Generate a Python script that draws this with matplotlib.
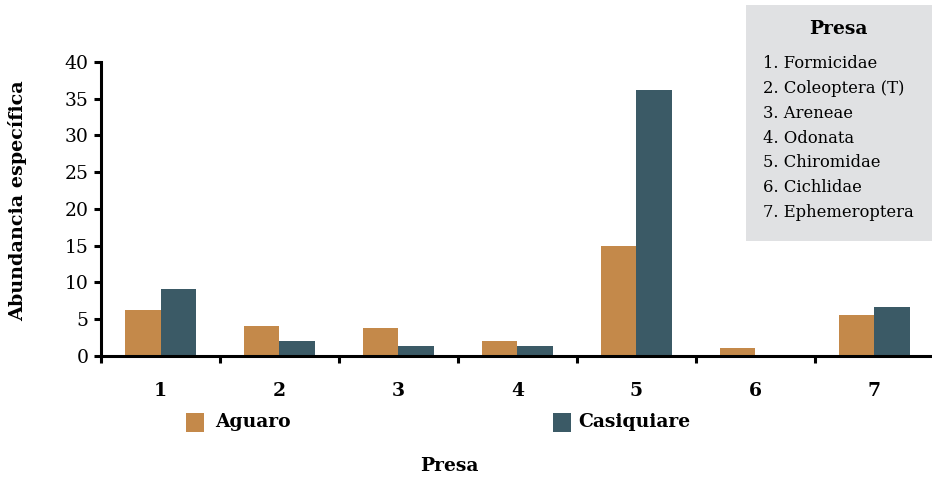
import matplotlib
matplotlib.use("Agg")
import matplotlib.pyplot as plt
import numpy as np
from matplotlib.patches import Rectangle

categories = ["1", "2", "3", "4", "5", "6", "7"]
aguaro = [6.2, 4.0, 3.8, 2.0, 15.0, 1.0, 5.5]
casiquiare = [9.1, 2.0, 1.3, 1.3, 36.2, 0.0, 6.6]
series_names = ["Aguaro", "Casiquiare"]
prey_names = ["1. Formicidae", "2. Coleoptera (T)", "3. Areneae", "4. Odonata",
              "5. Chiromidae", "6. Cichlidae", "7. Ephemeroptera"]
y_ticks = [0, 5, 10, 15, 20, 25, 30, 35, 40]

c_ag = "#c4894a"
c_ca = "#3b5a66"

plt.rcParams["font.family"] = ["DejaVu Serif"]

fig = plt.figure(figsize=(9.32, 4.79), dpi=100)
ax = fig.add_axes([0.1084, 0.2574, 0.8936, 0.6132])

x = np.arange(len(categories))
w = 0.3
ax.bar(x - w / 2, aguaro, width=w, color=c_ag, linewidth=0)
ax.bar(x + w / 2, casiquiare, width=w, color=c_ca, linewidth=0)

ax.set_xlim(-0.5, len(categories) - 0.5)
ax.set_ylim(0, 40)
for s in ["top", "right"]:
    ax.spines[s].set_visible(False)
for s in ["left", "bottom"]:
    ax.spines[s].set_linewidth(2.2)

ax.set_yticks(y_ticks)
ax.set_yticklabels([str(v) for v in y_ticks], fontsize=13.5)
ax.tick_params(axis="y", direction="out", length=5, width=2.2, pad=4)

# tick marks between groups, labels centred under each group
ax.set_xticks(np.arange(-0.5, len(categories), 1.0))
ax.set_xticklabels([])
ax.tick_params(axis="x", which="major", direction="out", length=5, width=2.2)
ax.set_xticks(x, minor=True)
ax.set_xticklabels(categories, minor=True, fontsize=13.5, fontweight="bold")
ax.tick_params(axis="x", which="minor", length=0, pad=19)

fig.text(0.019, 1 - 201 / 479, "Abundancia específica", rotation=90, ha="center",
         va="center", fontsize=13.8, fontweight="bold")
fig.text(0.482, 0.027, "Presa", ha="center", va="center", fontsize=13.5,
         fontweight="bold")

# legend row
for (x0, tx), name, col in zip([(186, 215), (553, 578)], series_names, [c_ag, c_ca]):
    fig.patches.append(Rectangle((x0 / 932, 1 - 432 / 479), 18 / 932, 19 / 479,
                                 transform=fig.transFigure, color=col, linewidth=0))
    fig.text(tx / 932, 1 - 422 / 479, name, ha="left", va="center",
             fontsize=13.5, fontweight="bold")

# prey key box
fig.patches.append(Rectangle((746 / 932, 1 - 241 / 479), 190 / 932, 236 / 479,
                             transform=fig.transFigure, color="#e0e1e3",
                             linewidth=0, zorder=0))
fig.text(838 / 932, 1 - 29 / 479, "Presa", ha="center", va="center",
         fontsize=13.5, fontweight="bold")
for i, name in enumerate(prey_names):
    fig.text(763 / 932, 1 - (64 + i * 24.7) / 479, name, ha="left", va="center",
             fontsize=11.8)

fig.savefig("out.png", dpi=100)
